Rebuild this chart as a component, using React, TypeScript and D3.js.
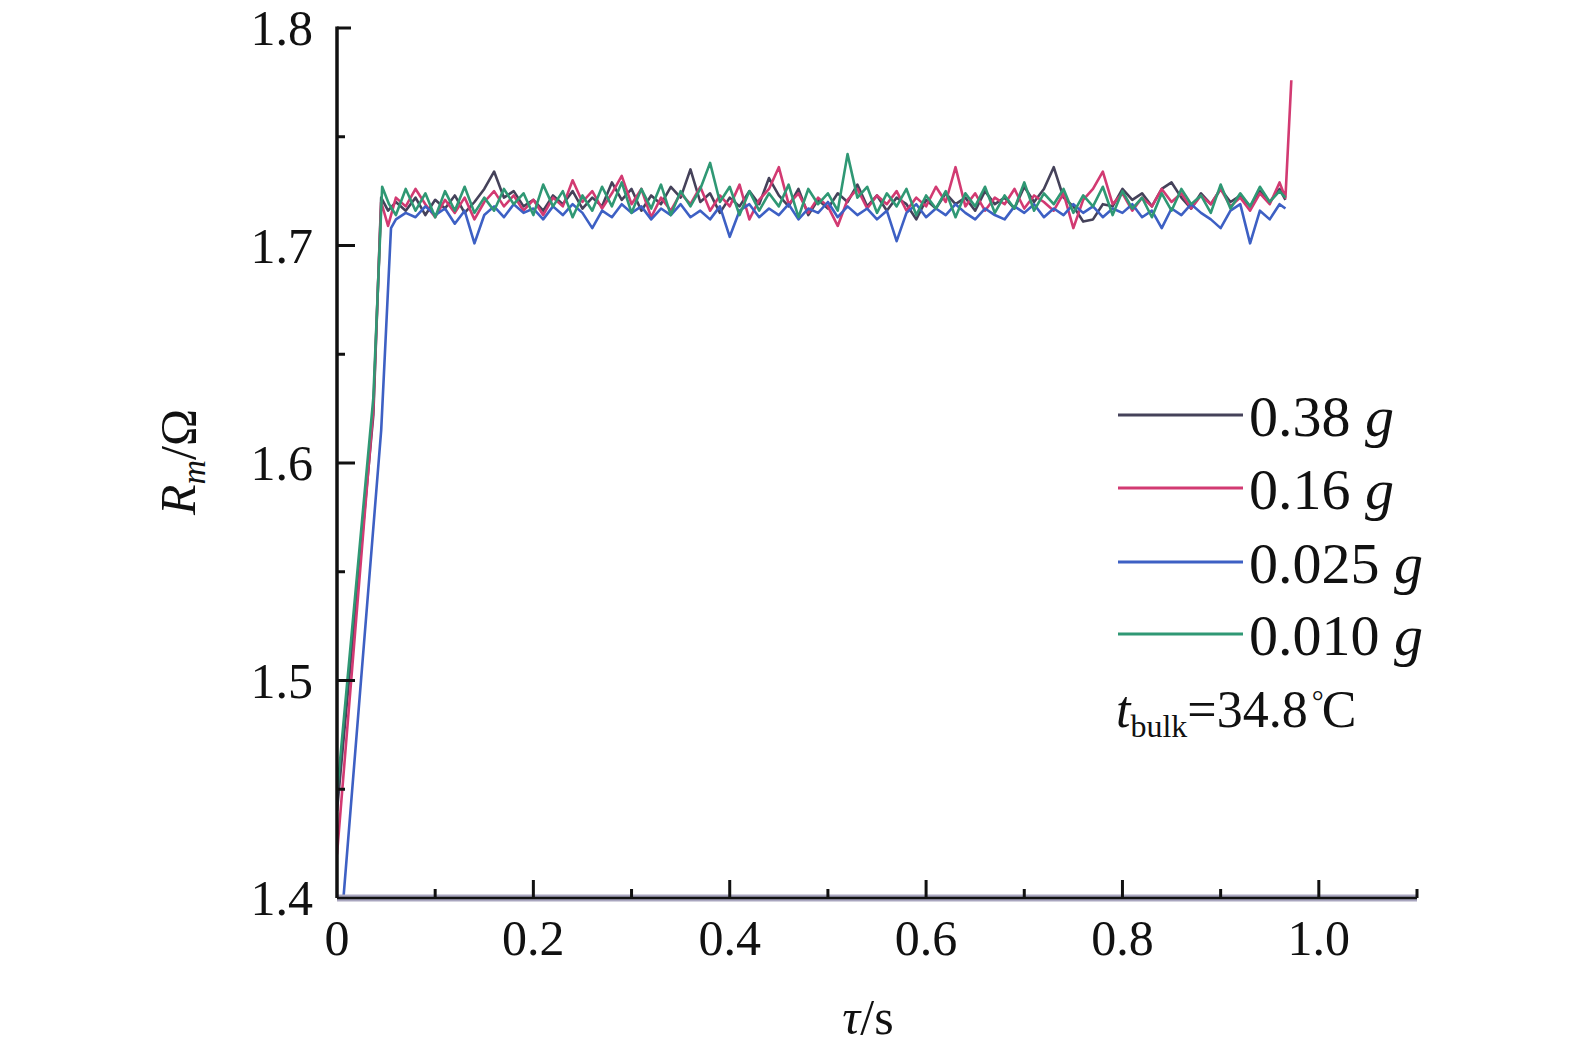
import * as d3 from 'd3'

// plateau samples from 0.06 s to 0.96 s, every 0.01 s
const T_START = 0.06
const T_STEP = 0.01

const BLACK_RISE: [number, number][] = [[0, 1.44], [0.037, 1.622], [0.045, 1.722], [0.052, 1.716]]
const BLACK_VALUES = [
  1.720, 1.716, 1.722, 1.714, 1.721, 1.717, 1.723, 1.715, 1.720, 1.726,
  1.734, 1.722, 1.725, 1.718, 1.721, 1.716, 1.723, 1.719, 1.725, 1.717,
  1.722, 1.718, 1.729, 1.721, 1.726, 1.716, 1.723, 1.719, 1.727, 1.722,
  1.735, 1.720, 1.724, 1.715, 1.722, 1.718, 1.725, 1.719, 1.731, 1.723,
  1.718, 1.726, 1.714, 1.721, 1.717, 1.724, 1.720, 1.728, 1.718, 1.723,
  1.716, 1.722, 1.719, 1.712, 1.721, 1.717, 1.724, 1.719, 1.722, 1.716,
  1.725, 1.719, 1.722, 1.717, 1.727, 1.720, 1.726, 1.736, 1.722, 1.718,
  1.711, 1.712, 1.719, 1.718, 1.726, 1.721, 1.724, 1.718, 1.726, 1.729,
  1.722, 1.717, 1.724, 1.719, 1.726, 1.720, 1.723, 1.718, 1.725, 1.720,
  1.726,
]
const BLACK_END: [number, number][] = [[0.966, 1.721]]

const RED_RISE: [number, number][] = [[0, 1.42], [0.037, 1.625], [0.045, 1.72], [0.052, 1.709]]
const RED_VALUES = [
  1.722, 1.718, 1.726, 1.719, 1.713, 1.721, 1.715, 1.722, 1.712, 1.720,
  1.725, 1.718, 1.723, 1.716, 1.721, 1.714, 1.722, 1.718, 1.730, 1.720,
  1.725, 1.717, 1.724, 1.732, 1.719, 1.726, 1.713, 1.722, 1.716, 1.724,
  1.719, 1.727, 1.716, 1.723, 1.718, 1.728, 1.712, 1.721, 1.726, 1.736,
  1.719, 1.724, 1.715, 1.722, 1.718, 1.709, 1.721, 1.726, 1.717, 1.723,
  1.719, 1.725, 1.716, 1.722, 1.718, 1.727, 1.720, 1.736, 1.718, 1.724,
  1.716, 1.722, 1.719, 1.726, 1.717, 1.723, 1.720, 1.716, 1.724, 1.708,
  1.721, 1.726, 1.734, 1.719, 1.724, 1.716, 1.722, 1.718, 1.726, 1.720,
  1.724, 1.717, 1.723, 1.719, 1.726, 1.718, 1.722, 1.716, 1.724, 1.719,
  1.729,
]
const RED_END: [number, number][] = [[0.966, 1.722], [0.972, 1.776]]

const BLUE_RISE: [number, number][] = [[0.003, 1.38], [0.045, 1.615], [0.055, 1.708]]
const BLUE_VALUES = [
  1.712, 1.715, 1.713, 1.718, 1.714, 1.717, 1.710, 1.716, 1.701, 1.714,
  1.718, 1.713, 1.719, 1.715, 1.717, 1.712, 1.718, 1.714, 1.719, 1.715,
  1.708, 1.716, 1.713, 1.719, 1.715, 1.718, 1.712, 1.717, 1.714, 1.719,
  1.713, 1.716, 1.712, 1.718, 1.704, 1.716, 1.719, 1.713, 1.717, 1.714,
  1.719, 1.712, 1.717, 1.715, 1.720, 1.713, 1.718, 1.714, 1.717, 1.712,
  1.716, 1.702, 1.715, 1.719, 1.713, 1.717, 1.714, 1.719, 1.715, 1.712,
  1.717, 1.714, 1.712, 1.718, 1.715, 1.719, 1.713, 1.717, 1.714, 1.719,
  1.715, 1.718, 1.713, 1.717, 1.715, 1.719, 1.713, 1.716, 1.708, 1.717,
  1.714, 1.719, 1.715, 1.712, 1.708, 1.716, 1.719, 1.701, 1.716, 1.712,
  1.719,
]
const BLUE_END: [number, number][] = [[0.966, 1.717]]

const GREEN_RISE: [number, number][] = [[0, 1.448], [0.037, 1.63], [0.046, 1.727], [0.053, 1.719]]
const GREEN_VALUES = [
  1.714, 1.726, 1.716, 1.724, 1.713, 1.725, 1.716, 1.727, 1.715, 1.722,
  1.716, 1.726, 1.719, 1.724, 1.714, 1.728, 1.718, 1.725, 1.713, 1.723,
  1.716, 1.727, 1.718, 1.729, 1.715, 1.726, 1.717, 1.728, 1.714, 1.725,
  1.718, 1.726, 1.738, 1.720, 1.727, 1.714, 1.725, 1.716, 1.724, 1.718,
  1.728, 1.713, 1.726, 1.719, 1.724, 1.716, 1.742, 1.722, 1.727, 1.715,
  1.724, 1.718, 1.726, 1.714, 1.723, 1.717, 1.725, 1.713, 1.724, 1.718,
  1.727, 1.715, 1.723, 1.717, 1.729, 1.716, 1.724, 1.719, 1.726, 1.715,
  1.723, 1.718, 1.727, 1.714, 1.725, 1.717, 1.722, 1.713, 1.724, 1.716,
  1.726, 1.719, 1.723, 1.715, 1.728, 1.717, 1.724, 1.718, 1.727, 1.720,
  1.725,
]
const GREEN_END: [number, number][] = [[0.966, 1.722]]

const LABELS = ['0.38', '0.16', '0.025', '0.010']
const COLORS = ['#45425a', '#d23a72', '#3d60c4', '#2f9874']

const X_TICKS = [0, 0.2, 0.4, 0.6, 0.8, 1.0]
const X_MINOR = [0.1, 0.3, 0.5, 0.7, 0.9, 1.1]
const Y_TICKS = [1.4, 1.5, 1.6, 1.7, 1.8]
const Y_MINOR = [1.45, 1.55, 1.65, 1.75]

const W = 1575
const H = 1056
const FONT = '"Liberation Serif", "Times New Roman", serif'

const x = d3.scaleLinear().domain([0, 1.1]).range([337, 1417])
const y = d3.scaleLinear().domain([1.4, 1.8]).range([898, 28])

function build(rise: [number, number][], vals: number[], end: [number, number][]) {
  const mid: [number, number][] = vals.map((v, i) => [T_START + i * T_STEP, v])
  return [...rise, ...mid, ...end]
}

const SERIES = [
  build(BLACK_RISE, BLACK_VALUES, BLACK_END),
  build(RED_RISE, RED_VALUES, RED_END),
  build(BLUE_RISE, BLUE_VALUES, BLUE_END),
  build(GREEN_RISE, GREEN_VALUES, GREEN_END),
]

const line = d3.line<[number, number]>().x(d => x(d[0])).y(d => y(d[1]))

export default function App() {
  const legendY = [415, 488, 562, 634]
  return (
    <svg width={W} height={H} style={{ position: 'absolute', left: 0, top: 0, background: '#fff' }}
      fontFamily={FONT}>
      <defs>
        <clipPath id="plot">
          <rect x={x(0)} y={y(1.8) - 60} width={x(1.1) - x(0)} height={y(1.4) - y(1.8) + 60} />
        </clipPath>
      </defs>

      {/* series */}
      <g clipPath="url(#plot)">
        {SERIES.map((s, i) => (
          <path key={i} d={line(s) || ''} fill="none" stroke={COLORS[i]} strokeWidth={2.6}
            strokeLinejoin="round" />
        ))}
      </g>

      {/* x axis */}
      <line x1={x(0)} x2={x(1.1)} y1={y(1.4)} y2={y(1.4)} stroke="#a9a6bf" strokeWidth={7} />
      <line x1={x(0)} x2={x(1.1)} y1={y(1.4)} y2={y(1.4)} stroke="#111" strokeWidth={2.5} />
      {X_TICKS.filter(t => t > 0).map(t => (
        <line key={t} x1={x(t)} x2={x(t)} y1={y(1.4)} y2={y(1.4) - 18} stroke="#111" strokeWidth={3} />
      ))}
      {X_MINOR.map(t => (
        <line key={t} x1={x(t)} x2={x(t)} y1={y(1.4)} y2={y(1.4) - 9} stroke="#111" strokeWidth={3} />
      ))}
      {X_TICKS.map(t => (
        <text key={t} x={x(t)} y={y(1.4) + 57} textAnchor="middle" fontSize={50} fill="#111">
          {t === 0 ? '0' : d3.format('.1f')(t)}
        </text>
      ))}

      {/* y axis */}
      <line x1={x(0)} x2={x(0)} y1={y(1.8) - 1.5} y2={y(1.4)} stroke="#111" strokeWidth={3.5} />
      {Y_TICKS.filter(t => t > 1.4).map(t => (
        <line key={t} x1={x(0)} x2={x(0) + (t === 1.8 ? 14 : 18)} y1={y(t)} y2={y(t)} stroke="#111" strokeWidth={3} />
      ))}
      {Y_MINOR.map(t => (
        <line key={t} x1={x(0)} x2={x(0) + 8} y1={y(t)} y2={y(t)} stroke="#111" strokeWidth={3} />
      ))}
      {Y_TICKS.map(t => (
        <text key={t} x={x(0) - 24} y={y(t) + 17} textAnchor="end" fontSize={50} fill="#111">
          {d3.format('.1f')(t)}
        </text>
      ))}

      {/* axis titles */}
      <text x={868} y={1034} textAnchor="middle" fontSize={50} fill="#111">
        <tspan fontStyle="italic">τ</tspan>/s
      </text>
      <text transform="translate(195,462) rotate(-90)" textAnchor="middle" fontSize={50} fill="#111">
        <tspan fontStyle="italic">R</tspan>
        <tspan fontStyle="italic" fontSize={34} dy={10}>m</tspan>
        <tspan dy={-10}>/Ω</tspan>
      </text>

      {/* legend */}
      {LABELS.map((l, i) => (
        <g key={l}>
          <line x1={1118} x2={1243} y1={legendY[i]} y2={legendY[i]} stroke={COLORS[i]} strokeWidth={3} />
          <text x={1249} y={legendY[i] + 21} fontSize={58} fill="#111">
            {l} <tspan fontStyle="italic">g</tspan>
          </text>
        </g>
      ))}
      <text x={1116} y={727} fontSize={52} fill="#111">
        <tspan fontStyle="italic">t</tspan>
        <tspan fontSize={32} dy={10}>bulk</tspan>
        <tspan dy={-10}>=34.8</tspan>
        <tspan fontSize={30} dx={4} dy={-16}>°</tspan>
        <tspan dx={-2} dy={16}>C</tspan>
      </text>
    </svg>
  )
}
